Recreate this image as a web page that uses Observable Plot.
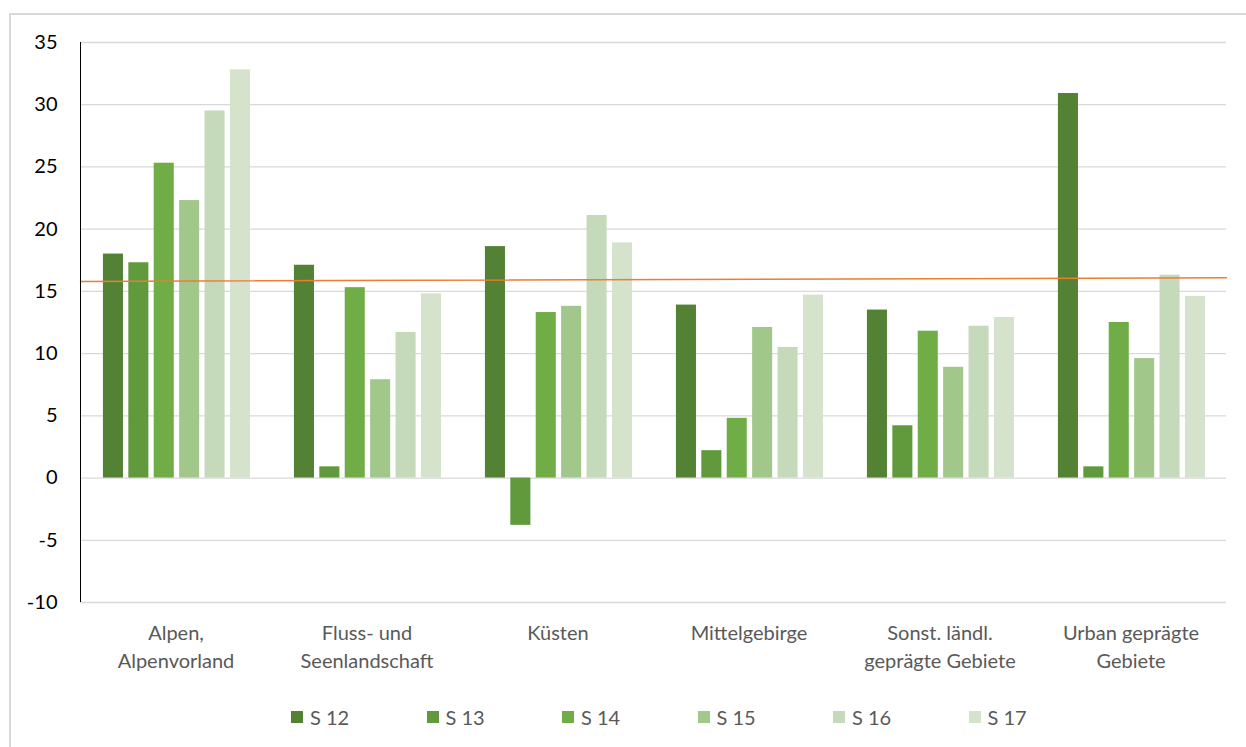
<!DOCTYPE html>
<html>
<head>
<meta charset="utf-8">
<script src="https://cdn.jsdelivr.net/npm/d3@7"></script>
<script src="https://cdn.jsdelivr.net/npm/@observablehq/plot@0.6"></script>
<style>
  html, body { margin: 0; padding: 0; background: #fff; }
  body { width: 1246px; height: 747px; position: relative; overflow: hidden; font-family: Lato, "Open Sans", sans-serif; }
  #frame { position: absolute; left: 9px; top: 13px; width: 1300px; height: 800px; border-left: 2px solid #d9d9d9; border-top: 2px solid #d9d9d9; box-sizing: border-box; }
  #chart { position: absolute; left: 0; top: 0; }
  #legend { position: absolute; left: 291px; top: 705px; display: flex; font-size: 20px; color: #595959; }
  .item { width: 135.5px; display: flex; align-items: center; }
  .sw { width: 12px; height: 12px; margin-right: 7px; }
</style>
</head>
<body>
<div id="frame"></div>
<div id="chart"></div>
<div id="legend"></div>
<script>
const categories = ["Alpen,\nAlpenvorland", "Fluss- und\nSeenlandschaft", "Küsten", "Mittelgebirge", "Sonst. ländl.\ngeprägte Gebiete", "Urban geprägte\nGebiete"];
const seriesNames = ["S 12", "S 13", "S 14", "S 15", "S 16", "S 17"];
const seriesColors = ["#548235", "#609a3c", "#70ad47", "#a2c78a", "#c5d9bb", "#d5e3cc"];
const s12 = [18.0, 17.1, 18.6, 13.9, 13.5, 30.9];
const s13 = [17.3, 0.9, -3.8, 2.2, 4.2, 0.9];
const s14 = [25.3, 15.3, 13.3, 4.8, 11.8, 12.5];
const s15 = [22.3, 7.9, 13.8, 12.1, 8.9, 9.6];
const s16 = [29.5, 11.7, 21.1, 10.5, 12.2, 16.3];
const s17 = [32.8, 14.8, 18.9, 14.7, 12.9, 14.6];
const refLine = [15.8, 16.1];
const yTicks = [-10, -5, 0, 5, 10, 15, 20, 25, 30, 35];

const seriesValues = [s12, s13, s14, s15, s16, s17];

// layout of bars within a category slot (fractions of slot width)
const groupStart = 0.12, barStep = 0.133, barWidth = 0.105;

const bars = [];
seriesValues.forEach((vals, j) => {
  vals.forEach((v, i) => {
    const x1 = i + groupStart + j * barStep;
    bars.push({series: seriesNames[j], cat: categories[i], value: v, x1, x2: x1 + barWidth});
  });
});
const catLabels = categories.map((c, i) => ({label: c, x: i + 0.5}));
const ref = [{x: 0, y: refLine[0]}, {x: categories.length, y: refLine[1]}];

const chart = Plot.plot({
  width: 1246,
  height: 700,
  marginLeft: 80,
  marginRight: 20,
  marginTop: 42,
  marginBottom: 98,
  style: {fontFamily: "Lato, 'Open Sans', sans-serif", background: "transparent"},
  x: {domain: [0, categories.length], axis: null},
  y: {domain: [-10, 35], ticks: yTicks, label: null},
  color: {domain: seriesNames, range: seriesColors},
  marks: [
    Plot.ruleY(yTicks, {stroke: "#d9d9d9", strokeWidth: 1.3}),
    Plot.rectY(bars, {x1: "x1", x2: "x2", y1: 0, y2: "value", fill: "series"}),
    Plot.line(ref, {x: "x", y: "y", stroke: "#ed7d31", strokeWidth: 1.5}),
    Plot.ruleX([0], {y1: -10, y2: 35, stroke: "#000", strokeWidth: 1}),
    Plot.axisY({ticks: yTicks, tickSize: 0, tickPadding: 23, fontSize: 20, fill: "#000", label: null, tickFormat: d => String(d)}),
    Plot.text(catLabels, {x: "x", y: () => -10, text: "label", lineAnchor: "top", dy: 18, lineHeight: 1.4, fontSize: 20, fill: "#595959"})
  ]
});
document.getElementById("chart").appendChild(chart);

const legend = document.getElementById("legend");
seriesNames.forEach((s, j) => {
  const it = document.createElement("div");
  it.className = "item";
  const sw = document.createElement("span");
  sw.className = "sw";
  sw.style.background = seriesColors[j];
  const t = document.createElement("span");
  t.textContent = s;
  it.appendChild(sw); it.appendChild(t);
  legend.appendChild(it);
});
</script>
</body>
</html>
